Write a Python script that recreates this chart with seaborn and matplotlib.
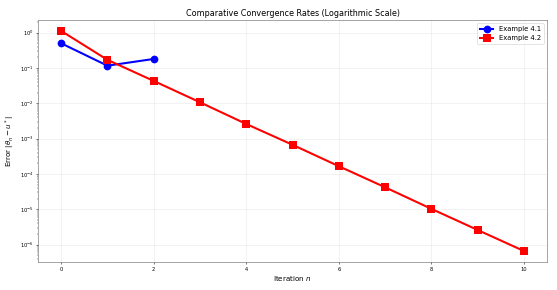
import numpy as np
import pandas as pd
import matplotlib
matplotlib.use("Agg")
import matplotlib.pyplot as plt
import seaborn as sns

# values
iter_41 = [0, 1, 2]
err_41 = [0.50, 0.116, 0.18]

iter_42 = [0, 1, 2, 3, 4, 5, 6, 7, 8, 9, 10]
err_42 = [1.12, 0.17, 0.043, 0.0107, 0.0026, 6.7e-4, 1.66e-4, 4.2e-5, 1.03e-5, 2.6e-6, 6.6e-7]

df = pd.concat([
    pd.DataFrame({"n": iter_41, "err": err_41, "case": "Example 4.1"}),
    pd.DataFrame({"n": iter_42, "err": err_42, "case": "Example 4.2"}),
])

dpi = 557 / 12
fig, ax = plt.subplots(figsize=(12, 6.25), dpi=dpi)

sns.lineplot(data=df, x="n", y="err", hue="case", style="case",
             palette={"Example 4.1": "blue", "Example 4.2": "red"},
             markers={"Example 4.1": "o", "Example 4.2": "s"},
             dashes=False, linewidth=3.2, markersize=12,
             markeredgewidth=0, ax=ax)

ax.set_yscale("log")
ax.set_title("Comparative Convergence Rates (Logarithmic Scale)", fontsize=12.5)
ax.set_xlabel("Iteration $n$", fontsize=11)
ax.set_ylabel(r"Error $|\theta_n - u^*|$", fontsize=11)
ax.tick_params(labelsize=8)
ax.grid(True, which="major", alpha=0.3)
for s in ax.spines.values():
    s.set_color("#555555")
ax.legend(loc="upper right", fontsize=10.5)

fig.subplots_adjust(left=38 / 557, right=547 / 557, top=1 - 20 / 290, bottom=1 - 262 / 290)
plt.savefig("out.png", dpi=dpi)
